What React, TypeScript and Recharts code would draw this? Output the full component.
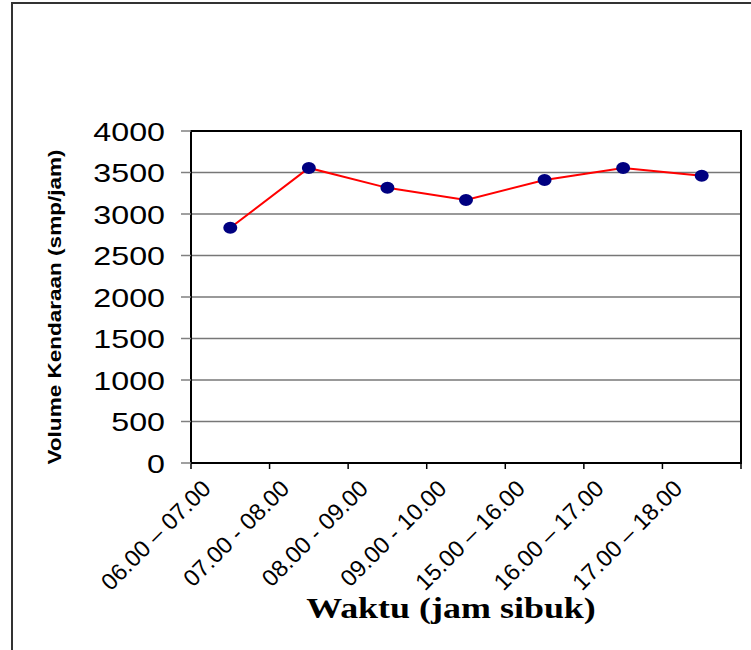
import React from 'react';
import { LineChart, Line, XAxis, YAxis, CartesianGrid, ReferenceArea } from 'recharts';

const categories = [
  '06.00 – 07.00',
  '07.00 - 08.00',
  '08.00 - 09.00',
  '09.00 - 10.00',
  '15.00 – 16.00',
  '16.00 – 17.00',
  '17.00 – 18.00',
];
const volumes = [2835, 3555, 3315, 3170, 3410, 3555, 3460];
const yTicks = [0, 500, 1000, 1500, 2000, 2500, 3000, 3500, 4000];
const xBounds = [0, 1, 2, 3, 4, 5, 6, 7];

const data = categories.map((name, i) => ({ pos: i + 0.5, name, volume: volumes[i] }));

const W = 751;
const H = 650;
const PLOT_W = 550;
const SANS = 'Liberation Sans, Arial, sans-serif';
const SERIF = 'Liberation Serif, Times New Roman, serif';

// image is a bit stretched horizontally, so text gets scaleX too
const STRETCH = 1.24;

const YTick = (props: any) => {
  const { x, y, payload } = props;
  return (
    <text
      transform={`translate(${x - 14},${y + 9.5}) scale(${STRETCH},1)`}
      textAnchor="end"
      fontFamily={SANS}
      fontSize={26}
      fill="#000"
    >
      {payload.value}
    </text>
  );
};

const XTick = (props: any) => {
  const { x, y, payload } = props;
  const label = categories[payload.value];
  if (!label) return <g />;
  const step = PLOT_W / categories.length;
  return (
    <text
      transform={`translate(${x + step / 2 - 18},${y + 19}) rotate(-45)`}
      textAnchor="end"
      fontFamily={SANS}
      fontSize={23.5}
      fill="#000"
    >
      {label}
    </text>
  );
};

const Dot = (props: any) => {
  const { cx, cy, index } = props;
  if (cx == null || cy == null) return <g key={index} />;
  return <ellipse key={index} cx={cx} cy={cy} rx={7} ry={6} fill="#000080" />;
};

export default function App() {
  return (
    <div style={{ position: 'absolute', left: 0, top: 0, width: W, height: H, overflow: 'hidden', background: '#fff' }}>
      <div
        style={{
          position: 'absolute',
          left: 11,
          top: 2,
          width: W + 20,
          height: H + 20,
          borderTop: '2px solid #333',
          borderLeft: '2px solid #333',
        }}
      />
      <div style={{ position: 'absolute', left: 0, top: 0 }}>
        <LineChart width={W} height={H} data={data} margin={{ top: 131, right: 10, left: 0, bottom: 0 }}>
          <CartesianGrid vertical={false} stroke="#777" strokeWidth={1.5} />
          <XAxis
            type="number"
            dataKey="pos"
            domain={[0, 7]}
            ticks={xBounds}
            interval={0}
            height={187}
            axisLine={{ stroke: '#000', strokeWidth: 2 }}
            tickLine={{ stroke: '#000', strokeWidth: 1.5 }}
            tickSize={6}
            tick={<XTick />}
            label={{
              content: () => (
                <text
                  transform={`translate(451,618) scale(${STRETCH},1)`}
                  textAnchor="middle"
                  fontFamily={SERIF}
                  fontWeight="bold"
                  fontSize={29}
                  fill="#000"
                >
                  Waktu (jam sibuk)
                </text>
              ),
            }}
          />
          <YAxis
            type="number"
            domain={[0, 4000]}
            ticks={yTicks}
            interval={0}
            width={191}
            axisLine={{ stroke: '#000', strokeWidth: 2 }}
            tickLine={{ stroke: '#808080', strokeWidth: 1.5 }}
            tickSize={10}
            tick={<YTick />}
            label={{
              content: () => (
                <text
                  x={61}
                  y={307}
                  transform="rotate(-90, 61, 307)"
                  textAnchor="middle"
                  fontFamily={SANS}
                  fontWeight="bold"
                  fontSize={18}
                  textLength={315}
                  lengthAdjust="spacingAndGlyphs"
                  fill="#000"
                >
                  Volume Kendaraan (smp/jam)
                </text>
              ),
            }}
          />
          <ReferenceArea x1={0} x2={7} y1={0} y2={4000} fill="none" stroke="#000" strokeWidth={2} />
          <Line
            type="linear"
            dataKey="volume"
            stroke="#ff0000"
            strokeWidth={2}
            dot={Dot}
            activeDot={false}
            isAnimationActive={false}
          />
        </LineChart>
      </div>
    </div>
  );
}
